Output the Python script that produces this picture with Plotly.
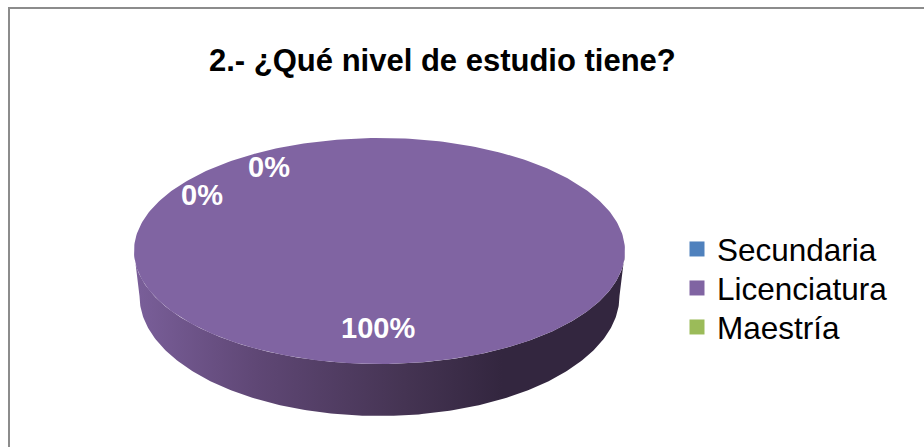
import numpy as np
import plotly.graph_objects as go

title = "2.- ¿Qué nivel de estudio tiene?"
categories = ["Secundaria", "Licenciatura", "Maestría"]
values = [0, 100, 0]
colors = ["#4f81bd", "#8064a2", "#9bbb59"]

W, H = 924, 447
CX, CY, RX, RY = 379.5, 251, 245.5, 113
BOT_RX, BOT_CY, BOT_RY = 240, 296, 120
START = np.deg2rad(-25)  # first slice angle, clockwise from the top of the pie


def rim(a):
    return CX + RX * np.sin(a), CY - RY * np.cos(a)


fig = go.Figure()

# side wall of the pie (front half)
front = np.linspace(np.pi / 2, 3 * np.pi / 2, 240)
xt, yt = rim(front)
back = front[::-1]
xb = CX + BOT_RX * np.sin(back)
yb = BOT_CY - BOT_RY * np.cos(back)
fig.add_trace(go.Scatter(
    x=np.r_[xt, xb], y=np.r_[yt, yb], mode="lines", line=dict(width=0),
    fill="toself", hoverinfo="skip", showlegend=False,
    fillgradient=dict(
        type="horizontal", start=CX - RX, stop=CX + RX,
        colorscale=[[0, "#7a5f9a"], [0.25, "#5f4775"], [0.55, "#453453"],
                    [0.75, "#33263f"], [1, "#33263f"]],
    ),
))

# top face, one wedge per category
total = sum(values)
edge = START
for name, v, c in zip(categories, values, colors):
    sweep = 2 * np.pi * v / total
    a = np.linspace(edge, edge + sweep, 361)
    x, y = rim(a)
    fig.add_trace(go.Scatter(
        x=np.r_[CX, x, CX], y=np.r_[CY, y, CY], mode="lines", line=dict(width=0),
        fill="toself", fillcolor=c, name=name, hoverinfo="skip", showlegend=False,
    ))
    edge += sweep

# legend entries, one legend each so the row spacing can follow the reference
legend_ids = ["legend", "legend2", "legend3"]
legend_rows = [249, 288, 327]
for name, c, lid in zip(categories, colors, legend_ids):
    fig.add_trace(go.Scatter(
        x=[None], y=[None], mode="markers", name=name, legend=lid,
        marker=dict(symbol="square", size=15, color=c),
    ))

label_pos = [(269, 167), (378, 328), (202, 195)]
annotations = [
    dict(x=px, y=py, text=f"<b>{v / total:.0%}</b>", showarrow=False,
         font=dict(family="Liberation Sans", size=29, color="white"),
         xanchor="center", yanchor="middle")
    for (px, py), v in zip(label_pos, values)
]
annotations.append(dict(
    x=442, y=60, text=f"<b>{title}</b>", showarrow=False,
    font=dict(family="Liberation Sans", size=31, color="black"),
    xanchor="center", yanchor="middle",
))

legends = {
    lid: dict(
        x=677 / W, y=1 - row / H, xanchor="left", yanchor="middle",
        font=dict(family="Liberation Sans", size=31.5, color="black"),
        bgcolor="rgba(0,0,0,0)", itemwidth=30,
    )
    for lid, row in zip(legend_ids, legend_rows)
}

fig.update_layout(
    width=W, height=H, margin=dict(l=0, r=0, t=0, b=0),
    paper_bgcolor="white", plot_bgcolor="white",
    xaxis=dict(range=[0, W], visible=False, fixedrange=True),
    yaxis=dict(range=[H, 0], visible=False, fixedrange=True),
    annotations=annotations,
    shapes=[dict(type="rect", x0=9, y0=8, x1=W + 10, y1=H + 10,
                 line=dict(color="#8c8c8c", width=2), fillcolor="rgba(0,0,0,0)",
                 layer="below")],
    **legends,
)

fig.write_html("out.html", config=dict(displayModeBar=False),
               post_script="document.body.style.margin='0';document.body.style.overflow='hidden';")
